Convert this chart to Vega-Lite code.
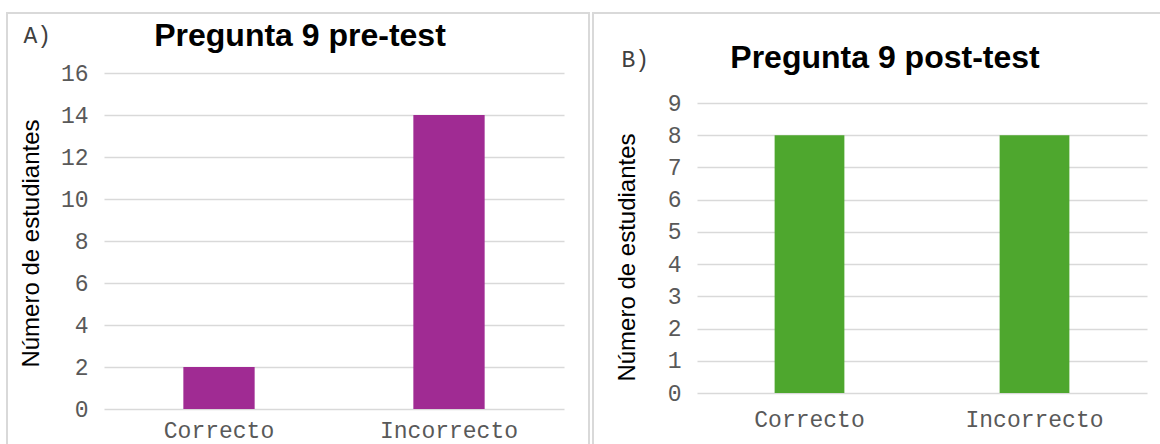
{
  "$schema": "https://vega.github.io/schema/vega-lite/v6.json",
  "padding": {"left": 6, "top": 12, "right": 0, "bottom": 0},
  "spacing": 2,
  "background": "#ffffff",
  "datasets": {
    "pre": [
      {"respuesta": "Correcto", "estudiantes": 2},
      {"respuesta": "Incorrecto", "estudiantes": 14}
    ],
    "post": [
      {"respuesta": "Correcto", "estudiantes": 8},
      {"respuesta": "Incorrecto", "estudiantes": 8}
    ]
  },
  "config": {
    "view": {"stroke": "#d9d9d9", "strokeWidth": 2},
    "axis": {
      "domain": false,
      "ticks": false,
      "labelFont": "Liberation Mono",
      "labelFontSize": 23,
      "labelColor": "#595959",
      "gridColor": "#d9d9d9",
      "gridWidth": 1.5
    },
    "title": {
      "font": "Liberation Sans",
      "fontSize": 32,
      "fontWeight": "bold",
      "color": "#000000",
      "anchor": "middle",
      "frame": "group",
      "baseline": "alphabetic",
      "offset": 0
    }
  },
  "hconcat": [
    {
      "width": 582,
      "height": 436,
      "title": {"text": "Pregunta 9 pre-test", "dy": 44, "dx": 2},
      "data": {"name": "pre"},
      "mark": {"type": "bar", "color": "#a02b93"},
      "encoding": {
        "x": {
          "field": "respuesta",
          "type": "nominal",
          "sort": null,
          "scale": {"range": [97, 557], "paddingInner": 0.69, "paddingOuter": 0.345},
          "axis": {
            "orient": "bottom",
            "offset": -40,
            "grid": false,
            "labelAngle": 0,
            "labelBaseline": "middle",
            "labelPadding": 21,
            "title": "A)",
            "titleFont": "Liberation Mono",
            "titleFontSize": 23,
            "titleFontWeight": "normal",
            "titleColor": "#404040",
            "titleX": 16,
            "titleY": -374,
            "titleAlign": "left",
            "titleBaseline": "middle"
          }
        },
        "y": {
          "field": "estudiantes",
          "type": "quantitative",
          "scale": {"domain": [0, 16], "range": [396, 60], "nice": false},
          "axis": {
            "orient": "left",
            "offset": -97,
            "grid": true,
            "values": [0, 2, 4, 6, 8, 10, 12, 14, 16],
            "labelPadding": 16,
            "title": "Número de estudiantes",
            "titleFont": "Liberation Sans",
            "titleFontSize": 24,
            "titleFontWeight": "normal",
            "titleColor": "#000000",
            "titleAngle": -90,
            "titleX": -73,
            "titleY": 230,
            "titleAlign": "center",
            "titleBaseline": "middle"
          }
        }
      }
    },
    {
      "width": 572,
      "height": 436,
      "title": {"text": "Pregunta 9 post-test", "dy": 66, "dx": 6},
      "data": {"name": "post"},
      "mark": {"type": "bar", "color": "#4ea72e"},
      "encoding": {
        "x": {
          "field": "respuesta",
          "type": "nominal",
          "sort": null,
          "scale": {"range": [104, 554], "paddingInner": 0.69, "paddingOuter": 0.345},
          "axis": {
            "orient": "bottom",
            "offset": -56,
            "grid": false,
            "labelAngle": 0,
            "labelBaseline": "middle",
            "labelPadding": 26,
            "title": "B)",
            "titleFont": "Liberation Mono",
            "titleFontSize": 23,
            "titleFontWeight": "normal",
            "titleColor": "#404040",
            "titleX": 28,
            "titleY": -334,
            "titleAlign": "left",
            "titleBaseline": "middle"
          }
        },
        "y": {
          "field": "estudiantes",
          "type": "quantitative",
          "scale": {"domain": [0, 9], "range": [380, 90], "nice": false},
          "axis": {
            "orient": "left",
            "offset": -104,
            "grid": true,
            "values": [0, 1, 2, 3, 4, 5, 6, 7, 8, 9],
            "labelPadding": 16,
            "title": "Número de estudiantes",
            "titleFont": "Liberation Sans",
            "titleFontSize": 24,
            "titleFontWeight": "normal",
            "titleColor": "#000000",
            "titleAngle": -90,
            "titleX": -70,
            "titleY": 244,
            "titleAlign": "center",
            "titleBaseline": "middle"
          }
        }
      }
    }
  ]
}
